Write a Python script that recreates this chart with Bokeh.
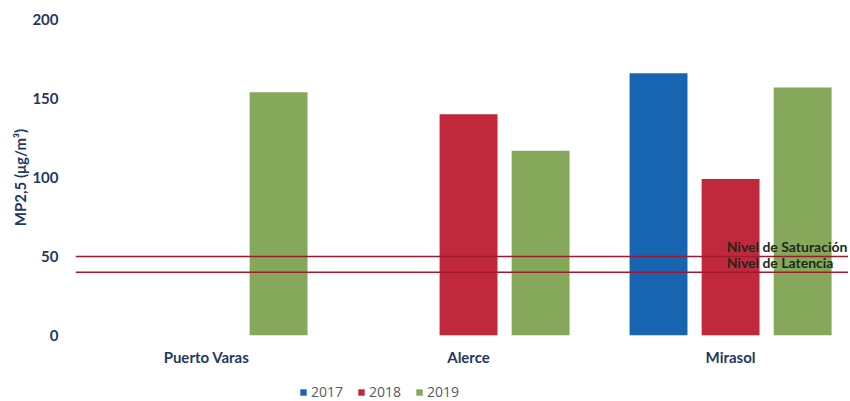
from bokeh.plotting import figure
from bokeh.layouts import column
from bokeh.models import ColumnDataSource, FixedTicker, Span, Legend, LegendItem, Label
from bokeh.embed import file_html
from bokeh.resources import INLINE

stations = ["Puerto Varas", "Alerce", "Mirasol"]
years = ["2017", "2018", "2019"]
v2017 = [None, None, 166]
v2018 = [None, 140, 99]
v2019 = [154, 117, 157]
saturacion = 50
latencia = 40
y_ticks = [0, 50, 100, 150, 200]

colors = {"2017": "#1765b0", "2018": "#c0283c", "2019": "#85a85a"}
offsets = {"2017": -0.275, "2018": 0.0, "2019": 0.275}
series = {"2017": v2017, "2018": v2018, "2019": v2019}

W = 848
p = figure(width=W, height=368, output_backend="svg", toolbar_location=None,
           x_range=(-0.5, 2.45), y_range=(0, 200),
           min_border_left=75, min_border_right=0, min_border_top=19, min_border_bottom=32)
p.outline_line_color = None
p.xgrid.grid_line_color = None
p.ygrid.grid_line_color = None

for yr in years:
    xs, tops = [], []
    for i, v in enumerate(series[yr]):
        if v is not None:
            xs.append(i + offsets[yr])
            tops.append(v)
    src = ColumnDataSource(dict(x=xs, top=tops))
    p.vbar(x="x", top="top", width=0.221, source=src,
           fill_color=colors[yr], line_color=None)

for val in (saturacion, latencia):
    p.add_layout(Span(location=val, dimension="width", line_color="#9e1a2e", line_width=1.6))

lab_color = "#1c2a1c"
p.add_layout(Label(x=1.985, y=saturacion, text="Nivel de Saturación", text_font="Lato",
                   text_font_style="bold", text_font_size="14px", text_color=lab_color,
                   text_baseline="bottom", y_offset=2))
p.add_layout(Label(x=1.985, y=latencia, text="Nivel de Latencia", text_font="Lato",
                   text_font_style="bold", text_font_size="14px", text_color=lab_color,
                   text_baseline="bottom", y_offset=1))

navy = "#1f3864"
p.yaxis.ticker = FixedTicker(ticks=y_ticks)
p.yaxis.axis_line_color = None
p.yaxis.major_tick_line_color = None
p.yaxis.minor_tick_line_color = None
p.yaxis.major_tick_out = 0
p.yaxis.major_label_standoff = 17
p.yaxis.major_label_text_font = "Lato"
p.yaxis.major_label_text_font_style = "bold"
p.yaxis.major_label_text_font_size = "15px"
p.yaxis.major_label_text_color = navy
p.yaxis.axis_label = "MP2,5 (μg/m³)"
p.yaxis.axis_label_text_font = "Lato"
p.yaxis.axis_label_text_font_style = "bold"
p.yaxis.axis_label_text_font_size = "15px"
p.yaxis.axis_label_text_color = navy
p.yaxis.axis_label_standoff = 0

p.xaxis.ticker = FixedTicker(ticks=[0, 1, 2])
p.xaxis.major_label_overrides = {i: s for i, s in enumerate(stations)}
p.xaxis.axis_line_color = None
p.xaxis.major_tick_line_color = None
p.xaxis.minor_tick_line_color = None
p.xaxis.major_tick_out = 0
p.xaxis.major_label_standoff = 12
p.xaxis.major_label_text_font = "Lato"
p.xaxis.major_label_text_font_style = "bold"
p.xaxis.major_label_text_font_size = "15px"
p.xaxis.major_label_text_color = navy

# legend strip
lg = figure(width=W, height=33, output_backend="svg", toolbar_location=None,
            x_range=(0, 10), y_range=(0, 10), x_axis_type=None, y_axis_type=None,
            min_border=0)
lg.outline_line_color = None
lg.xgrid.grid_line_color = None
lg.ygrid.grid_line_color = None
items = []
for yr in years:
    r = lg.vbar(x=[-100], top=[0], bottom=[0], width=1, fill_color=colors[yr], line_color=None)
    items.append(LegendItem(label=yr, renderers=[r]))
legend = Legend(items=items, orientation="horizontal", location=(224, 0),
                label_text_font="Open Sans", label_text_font_size="14px",
                label_text_color="#595959", glyph_width=8, glyph_height=8,
                spacing=14, label_standoff=4, border_line_color=None,
                background_fill_alpha=0, padding=0, margin=0)
lg.add_layout(legend, "center")

open("out.html", "w").write(file_html(column(p, lg, spacing=0), INLINE))
